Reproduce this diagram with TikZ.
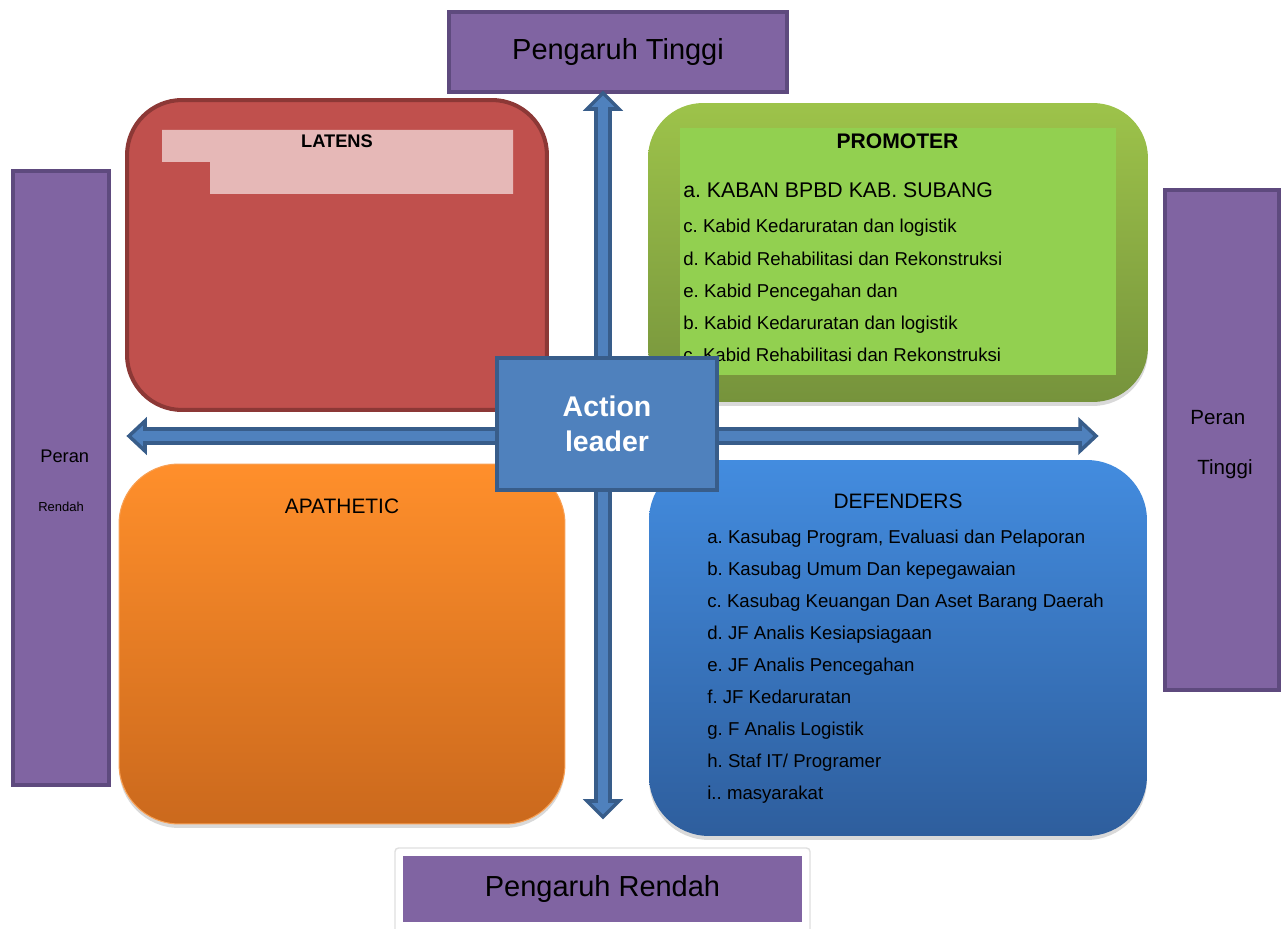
\documentclass[tikz,border=0pt]{standalone}
\usepackage{fontspec}
\setmainfont{Liberation Sans}
\frenchspacing
\usetikzlibrary{calc}
\usetikzlibrary{shadows}
\definecolor{purplebox}{HTML}{8064A2}
\definecolor{purpleline}{HTML}{5E4A7E}
\definecolor{latensred}{HTML}{C0504D}
\definecolor{latensline}{HTML}{8C3836}
\definecolor{latenspink}{HTML}{E6B8B7}
\definecolor{promotertop}{HTML}{9DC34A}
\definecolor{promoterbot}{HTML}{76933C}
\definecolor{promoterin}{HTML}{92D050}
\definecolor{apathtop}{HTML}{FF8F2B}
\definecolor{apathbot}{HTML}{CB691D}
\definecolor{apathline}{HTML}{F7A055}
\definecolor{deftop}{HTML}{438CDF}
\definecolor{defbot}{HTML}{2E5E9D}
\definecolor{actionblue}{HTML}{4F81BD}
\definecolor{actionline}{HTML}{385D8A}

\begin{document}
\begin{tikzpicture}[x=0.02cm, y=-0.02cm]
            \tikzset{axisbox/.style={fill=purplebox, draw=purpleline, line width=2.2pt, inner sep=0pt}}
            \tikzset{quad/.style={rounded corners=1.1cm, inner sep=0pt}}
            \tikzset{softshadow/.style={drop shadow={opacity=0.3, shadow xshift=0pt, shadow yshift=-0.08cm}}}
            \tikzset{item/.style={anchor=base west, inner sep=0pt, font=\fontsize{10.6}{12}\selectfont}}
            \tikzset{title/.style={anchor=base, inner sep=0pt, font=\fontsize{11.9}{14}\selectfont}}
            \tikzset{axis/.style={fill=actionblue, draw=actionline, line width=2pt, line join=miter}}
            \useasboundingbox (0, 0) rectangle (1285, 929);
            % side and top/bottom labels
            \node[axisbox, minimum width=6.76cm, minimum height=1.6cm, font=\fontsize{16.5}{18}\selectfont] (tinggi) at (618, 52) {Pengaruh Tinggi};
            \draw[gray!25, line width=0.8pt, fill=white, rounded corners=2pt] (395, 931) -- (395, 848) -- (810, 848) -- (810, 931);
            \node[fill=purplebox, inner sep=0pt, minimum width=7.98cm, minimum height=1.32cm, font=\fontsize{16.5}{18}\selectfont] (rendah) at (602.5, 889) {Pengaruh Rendah};
            \node[axisbox, minimum width=1.92cm, minimum height=12.28cm] (perankiri) at (61, 478) {};
            \node[axisbox, minimum width=2.28cm, minimum height=10cm] (perankanan) at (1222, 440) {};
            \node[item, font=\fontsize{10.4}{12}\selectfont] (peran1) at (40, 462) {Peran};
            \node[item, font=\fontsize{7.4}{9}\selectfont] (rendah1) at (38, 511) {Rendah};
            \node[item, font=\fontsize{11.7}{14}\selectfont] (peran2) at (1190, 424) {Peran};
            \node[item, font=\fontsize{11.7}{14}\selectfont] (tinggi2) at (1197, 474) {Tinggi};
            % the four quadrants
            \node[quad, fill=latensred, draw=latensline, line width=2.3pt, minimum width=8.4cm, minimum height=6.2cm] (latens) at (337, 255) {};
            \fill[latenspink] (162, 130) -- (513, 130) -- (513, 194) -- (210, 194) -- (210, 162) -- (162, 162) -- cycle;
            \node[title, font=\bfseries\fontsize{10.4}{12}\selectfont] (latenstitle) at (337, 148) {LATENS};
            \node[quad, softshadow, top color=promotertop, bottom color=promoterbot, minimum width=10cm, minimum height=5.98cm] (promoter) at (898, 252.5) {};
            \node[fill=promoterin, inner sep=0pt, minimum width=8.72cm, minimum height=4.94cm] (promoterin) at (898, 251.5) {};
            \node[title, font=\bfseries\fontsize{12}{14}\selectfont] (promotertitle) at (897.5, 149) {PROMOTER};
            \node[item, font=\fontsize{12.1}{14}\selectfont] (p1) at (683, 198) {a. KABAN BPBD KAB. SUBANG};
            \node[item] (p2) at (683, 233) {c. Kabid Kedaruratan dan logistik};
            \node[item] (p3) at (683, 265.5) {d. Kabid Rehabilitasi dan Rekonstruksi};
            \node[item] (p4) at (683, 297.5) {e. Kabid Pencegahan dan};
            \node[item] (p5) at (683, 329.5) {b. Kabid Kedaruratan dan logistik};
            \node[item] (p6) at (683, 361.5) {c. Kabid Rehabilitasi dan Rekonstruksi};
            \node[quad, softshadow, draw=apathline, line width=0.6pt, top color=apathtop, bottom color=apathbot, rounded corners=1.2cm, minimum width=8.92cm, minimum height=7.2cm] (apathetic) at (342, 644) {};
            \node[title] (apathetictitle) at (342, 513) {APATHETIC};
            \node[quad, softshadow, top color=deftop, bottom color=defbot, rounded corners=1.2cm, minimum width=9.96cm, minimum height=7.52cm] (defenders) at (898, 648) {};
            \node[title] (defenderstitle) at (898, 508) {DEFENDERS};
            \node[item] (d1) at (707, 543.5) {a. Kasubag Program, Evaluasi dan Pelaporan};
            \node[item] (d2) at (707, 575.5) {b. Kasubag Umum Dan kepegawaian};
            \node[item] (d3) at (707, 607.5) {c. Kasubag Keuangan Dan Aset Barang Daerah};
            \node[item] (d4) at (707, 639.5) {d. JF Analis Kesiapsiagaan};
            \node[item] (d5) at (707, 671.5) {e. JF Analis Pencegahan};
            \node[item] (d6) at (707, 703.5) {f. JF Kedaruratan};
            \node[item] (d7) at (707, 735.5) {g. F Analis Logistik};
            \node[item] (d8) at (707, 767.5) {h. Staf IT/ Programer};
            \node[item] (d9) at (707, 799.5) {i.. masyarakat};
            % the two axes
            \coordinate (vtop) at (603, 93);
            \coordinate (vbot) at (603, 817);
            \coordinate (hleft) at (129, 436);
            \coordinate (hright) at (1096, 436);
            \draw[axis] (vtop) -- ($(vtop)+(16, 16)$) -- ($(vtop)+(7, 16)$) -- ($(vbot)+(7, -16)$) -- ($(vbot)+(16, -16)$)
                -- (vbot) -- ($(vbot)+(-16, -16)$) -- ($(vbot)+(-7, -16)$) -- ($(vtop)+(-7, 16)$) -- ($(vtop)+(-16, 16)$) -- cycle;
            \draw[axis] (hleft) -- ($(hleft)+(16, -15)$) -- ($(hleft)+(16, -7)$) -- ($(hright)+(-16, -7)$) -- ($(hright)+(-16, -15)$)
                -- (hright) -- ($(hright)+(-16, 15)$) -- ($(hright)+(-16, 7)$) -- ($(hleft)+(16, 7)$) -- ($(hleft)+(16, 15)$) -- cycle;
            % centre
            \node[fill=actionblue, draw=actionline, line width=2.3pt, minimum width=4.4cm, minimum height=2.64cm, align=center, text=white, font=\bfseries\fontsize{16.2}{20}\selectfont] (action) at (607, 424) {Action\\leader};
        \end{tikzpicture}
\end{document}
